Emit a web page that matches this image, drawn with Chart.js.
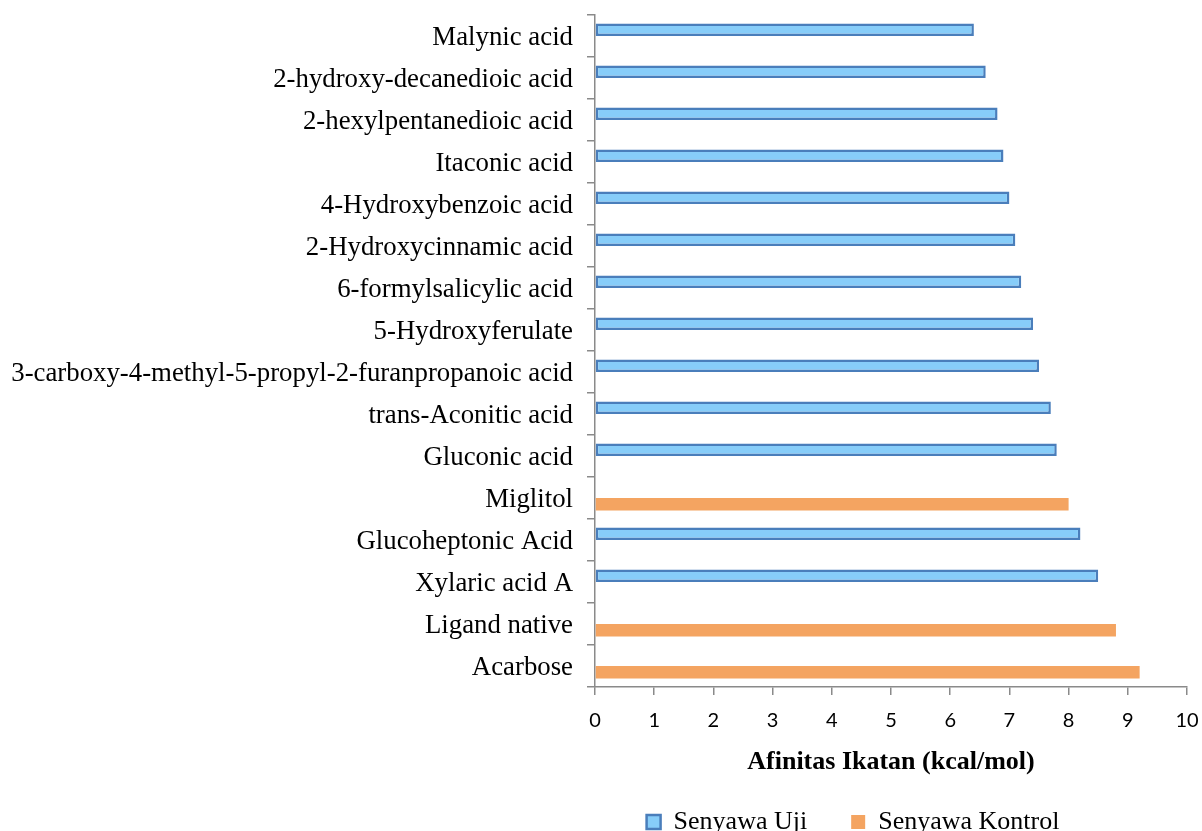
<!DOCTYPE html>
<html><head><meta charset="utf-8">
<script src="https://cdn.jsdelivr.net/npm/chart.js@4.4.1/dist/chart.umd.min.js"></script>
<style>html,body{margin:0;padding:0;background:#fff;overflow:hidden}</style>
</head><body>
<canvas id="c" width="1202" height="831"></canvas>
<script>
const categories = [
  "Malynic acid",
  "2-hydroxy-decanedioic acid",
  "2-hexylpentanedioic acid",
  "Itaconic acid",
  "4-Hydroxybenzoic acid",
  "2-Hydroxycinnamic acid",
  "6-formylsalicylic acid",
  "5-Hydroxyferulate",
  "3-carboxy-4-methyl-5-propyl-2-furanpropanoic acid",
  "trans-Aconitic acid",
  "Gluconic acid",
  "Miglitol",
  "Glucoheptonic Acid",
  "Xylaric acid A",
  "Ligand native",
  "Acarbose"
];
const seriesUji = [6.4, 6.6, 6.8, 6.9, 7.0, 7.1, 7.2, 7.4, 7.5, 7.7, 7.8, null, 8.2, 8.5, null, null];
const seriesKontrol = [null, null, null, null, null, null, null, null, null, null, null, 8.0, null, null, 8.8, 9.2];
const seriesNames = ["Senyawa Uji", "Senyawa Kontrol"];
const axisTitle = "Afinitas Ikatan (kcal/mol)";
const xMin = 0, xMax = 10, xStep = 1;

const axisColor = '#8a8a8a';
const serif = '"Liberation Serif", "Times New Roman", serif';

const legendPlace = {
  id: 'legendPlace',
  afterLayout(chart) {
    const l = chart.legend;
    if (!l) return;
    const w = l.right - l.left;
    const cx = 853;
    l.left = cx - w / 2; l.right = cx + w / 2;
    l.top = 765; l.bottom = 900;
  }
};

new Chart(document.getElementById('c'), {
  type: 'bar',
  data: {
    labels: categories,
    datasets: [
      {
        label: seriesNames[0],
        data: seriesUji,
        backgroundColor: '#87CDF9',
        borderColor: '#4A7EBB',
        borderWidth: 2.5,
        borderSkipped: false
      },
      {
        label: seriesNames[1],
        data: seriesKontrol,
        backgroundColor: '#F4A461',
        borderColor: '#F4A461',
        borderWidth: 0
      }
    ]
  },
  options: {
    responsive: false,
    animation: false,
    indexAxis: 'y',
    categoryPercentage: 0.6,
    barPercentage: 1.0,
    layout: { padding: { top: 15, right: 15, left: 0, bottom: 0 } },
    scales: {
      y: {
        type: 'category',
        offset: true,
        afterFit(scale) { scale.width = 595; scale.paddingTop = 0; scale.paddingBottom = 0; },
        grid: {
          display: true,
          drawOnChartArea: false,
          drawTicks: true,
          tickLength: 8,
          color: axisColor,
          lineWidth: 1.5,
          offset: true
        },
        border: { display: true, color: axisColor, width: 1.5 },
        ticks: {
          color: '#000',
          padding: 14,
          labelOffset: 2,
          font: { family: serif, size: 26.8 }
        }
      },
      x: {
        min: xMin, max: xMax,
        afterFit(scale) { scale.height = 100; scale.paddingLeft = 0; scale.paddingRight = 0; },
        grid: {
          display: true,
          drawOnChartArea: false,
          drawTicks: true,
          tickLength: 8,
          color: axisColor,
          lineWidth: 1.5
        },
        border: { display: true, color: axisColor, width: 1.5 },
        ticks: {
          stepSize: xStep,
          color: '#000',
          padding: 14,
          font: { family: 'Lato, "Open Sans", sans-serif', size: 20 }
        },
        title: {
          display: true,
          text: axisTitle,
          color: '#000',
          padding: { top: 0, bottom: 9 },
          font: { family: serif, size: 26, weight: 'bold' }
        }
      }
    },
    plugins: {
      tooltip: { enabled: false },
      legend: {
        position: 'bottom',
        maxHeight: 44,
        labels: {
          color: '#000',
          boxWidth: 14,
          boxHeight: 14,
          padding: 44,
          font: { family: serif, size: 26 }
        }
      }
    }
  },
  plugins: [legendPlace]
});
</script>
</body></html>
